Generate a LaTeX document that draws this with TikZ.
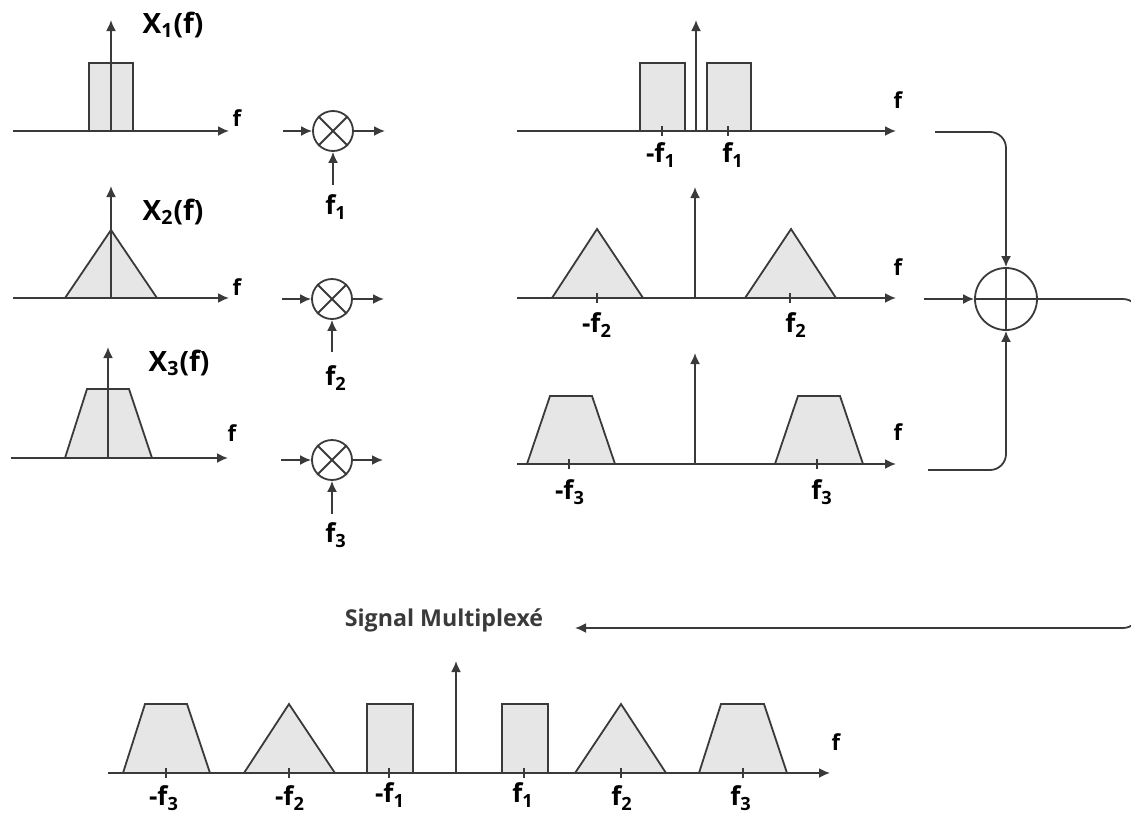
\documentclass[tikz,border=0pt]{standalone}
\usepackage{fontspec}
\setmainfont{Open Sans}
\usetikzlibrary{arrows.meta}
\definecolor{lncol}{HTML}{3A3A3A}
\definecolor{fillcol}{HTML}{E6E6E6}
\definecolor{txtgray}{HTML}{3A3A3A}
\tikzset{
  ln/.style={draw=lncol, line width=0.9pt},
  ax/.style={ln, -{Latex[length=5.5pt,width=5pt]}},
  sh/.style={ln, fill=fillcol, line join=miter},
  tick/.style={ln},
  lbl/.style={font=\bfseries\fontsize{13}{15}\selectfont, inner sep=0pt},
  biglbl/.style={font=\bfseries\fontsize{14}{16}\selectfont, inner sep=0pt},
  axlbl/.style={font=\bfseries\fontsize{11}{13}\selectfont, inner sep=0pt},
  mult/.style={circle, ln, minimum size=20pt, inner sep=0pt},
  summ/.style={circle, ln, minimum size=31pt, inner sep=0pt},
}
\begin{document}
\begin{tikzpicture}[x=0.5pt,y=-0.5pt]
\useasboundingbox (0,0) rectangle (1131,814);

% ---------- Left column ----------
% row 1
\draw[sh] (89,131) rectangle (133,63);
\draw[ax] (13,131) -- (229,131);
\draw[ax] (111,131) -- (111,20);
\node[biglbl] (x1) at (173,25) {X\textsubscript{1}(f)};
\node[axlbl] (fa1) at (237,118) {f};
% row 2
\draw[sh] (65,298) -- (111,230) -- (157,298) -- cycle;
\draw[ax] (13,298) -- (229,298);
\draw[ax] (111,298) -- (111,186);
\node[biglbl] (x2) at (173,212) {X\textsubscript{2}(f)};
\node[axlbl] (fa2) at (237,287) {f};
% row 3
\draw[sh] (65,458) -- (87,389) -- (129,389) -- (152,458) -- cycle;
\draw[ax] (11,458) -- (228,458);
\draw[ax] (108,458) -- (108,347);
\node[biglbl] (x3) at (179,363) {X\textsubscript{3}(f)};
\node[axlbl] (fa3) at (232,433) {f};

% ---------- Multipliers ----------
\node[mult] (m1) at (333,131) {};
\node[mult] (m2) at (332,299) {};
\node[mult] (m3) at (332,460) {};
\foreach \m in {m1,m2,m3}{
  \draw[ln] (\m.45) -- (\m.225) (\m.135) -- (\m.315);
}
\coordinate (m1i) at (283,131); \coordinate (m1o) at (385,131); \coordinate (m1b) at (333,185);
\coordinate (m2i) at (282,299); \coordinate (m2o) at (384,299); \coordinate (m2b) at (332,352);
\coordinate (m3i) at (281,460); \coordinate (m3o) at (383,460); \coordinate (m3b) at (332,514);
\draw[ax] (m1i) -- (m1.west); \draw[ax] (m1.east) -- (m1o); \draw[ax] (m1b) -- (m1.south);
\draw[ax] (m2i) -- (m2.west); \draw[ax] (m2.east) -- (m2o); \draw[ax] (m2b) -- (m2.south);
\draw[ax] (m3i) -- (m3.west); \draw[ax] (m3.east) -- (m3o); \draw[ax] (m3b) -- (m3.south);
\node[lbl] (lm1) at (336,207) {f\textsubscript{1}};
\node[lbl] (lm2) at (336,378) {f\textsubscript{2}};
\node[lbl] (lm3) at (336,535) {f\textsubscript{3}};

% ---------- Right column ----------
% row 1
\draw[sh] (640,131) rectangle (685,63);
\draw[sh] (707,131) rectangle (751,63);
\draw[ax] (517,131) -- (896,131);
\draw[ax] (696,131) -- (696,20);
\draw[tick] (662,126) -- (662,136) (728,126) -- (728,136);
\node[lbl] (r1a) at (661,155) {-f\textsubscript{1}};
\node[lbl] (r1b) at (733,155) {f\textsubscript{1}};
\node[axlbl] (fr1) at (898,100) {f};
% row 2
\draw[sh] (552,298) -- (597,229) -- (643,298) -- cycle;
\draw[sh] (745,298) -- (791,229) -- (836,298) -- cycle;
\draw[ax] (517,298) -- (896,298);
\draw[ax] (695,298) -- (695,187);
\draw[tick] (597,293) -- (597,303) (790,293) -- (790,303);
\node[lbl] (r2a) at (597,325) {-f\textsubscript{2}};
\node[lbl] (r2b) at (796,325) {f\textsubscript{2}};
\node[axlbl] (fr2) at (898,267) {f};
% row 3
\draw[sh] (527,464) -- (550,396) -- (592,396) -- (615,464) -- cycle;
\draw[sh] (775,464) -- (798,396) -- (840,396) -- (863,464) -- cycle;
\draw[ax] (517,464) -- (896,464);
\draw[ax] (695,464) -- (695,353);
\draw[tick] (569,459) -- (569,469) (817,459) -- (817,469);
\node[lbl] (r3a) at (570,492) {-f\textsubscript{3}};
\node[lbl] (r3b) at (822,492) {f\textsubscript{3}};
\node[axlbl] (fr3) at (898,432) {f};

% ---------- Summer ----------
\node[summ] (s) at (1006,299) {};
\draw[ln] (s.north) -- (s.south) (s.west) -- (s.east);
\coordinate (t1) at (935,132);
\coordinate (t2) at (924,299);
\coordinate (t3) at (928,470);
\draw[ax, rounded corners=8pt] (t1) -| (s.north);
\draw[ax] (t2) -- (s.west);
\draw[ax, rounded corners=8pt] (t3) -| (s.south);
\coordinate (outp) at (575,628);
\draw[ax, rounded corners=8pt] (s.east) -- (1139,299) |- (outp);
\node[font=\bfseries\fontsize{11.6}{13}\selectfont, text=txtgray, inner sep=0pt] (sig) at (444,620) {Signal Multiplexé};

% ---------- Bottom spectrum ----------
\draw[sh] (123,773) -- (145,704) -- (187,704) -- (210,773) -- cycle;
\draw[sh] (244,773) -- (289,704) -- (335,773) -- cycle;
\draw[sh] (367,773) rectangle (413,704);
\draw[sh] (502,773) rectangle (548,704);
\draw[sh] (575,773) -- (621,704) -- (666,773) -- cycle;
\draw[sh] (699,773) -- (721,704) -- (764,704) -- (787,773) -- cycle;
\draw[ax] (108,773) -- (830,773);
\draw[ax] (456,773) -- (456,661);
\draw[tick] (166,768) -- (166,778) (289,768) -- (289,778) (389,768) -- (389,778)
            (524,768) -- (524,778) (621,768) -- (621,778) (743,768) -- (743,778);
\node[lbl] (b1) at (164,798) {-f\textsubscript{3}};
\node[lbl] (b2) at (290,798) {-f\textsubscript{2}};
\node[lbl] (b3) at (390,795) {-f\textsubscript{1}};
\node[lbl] (b4) at (523,795) {f\textsubscript{1}};
\node[lbl] (b5) at (622,798) {f\textsubscript{2}};
\node[lbl] (b6) at (741,798) {f\textsubscript{3}};
\node[axlbl] (fb) at (836,742) {f};
\end{tikzpicture}
\end{document}
